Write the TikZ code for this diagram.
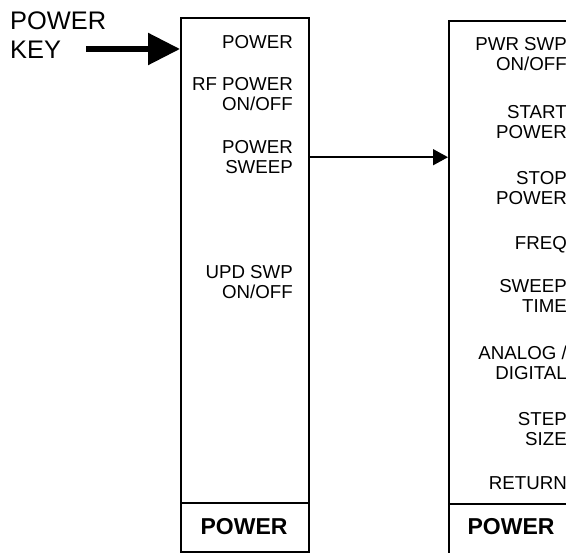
\documentclass[tikz,border=0pt]{standalone}
\usepackage{fontspec}
\setmainfont{Liberation Sans}
\usetikzlibrary{arrows.meta}
\begin{document}
\begin{tikzpicture}[x=1pt, y=-1pt]

      \tikzset{menu/.style={draw, line width=2pt, rectangle, inner sep=0pt, minimum width=128pt, anchor=north west},
               softkey/.style={inner sep=0pt, align=right, anchor=base east, font=\fontsize{18.7}{20.7}\selectfont},
               hardkey/.style={inner sep=0pt, font=\fontsize{23}{25}\selectfont\bfseries},
               divider/.style={line width=2pt},
               keyarrow/.style={line width=5.5pt, -{Triangle[length=32pt, width=31pt]}},
               menuarrow/.style={line width=1.5pt, -{Triangle[length=15pt, width=16pt]}}}
      \useasboundingbox (0,0) rectangle (566,553);
%% Menus
      	\node[menu, minimum height=534pt] (lmenu) at (180,17) {};
      	\node[menu, minimum height=600pt] (rmenu) at (448,20) {};
      	\draw[divider] (180,503) -- (308,503);
      	\draw[divider] (448,504) -- (576,504);
      	\node[hardkey] (lkey) at (244,527) {POWER};
      	\node[hardkey] (rkey) at (511,527) {POWER};
%% Softkeys (base = last line)
      	\node[inner sep=0pt, align=left, anchor=base west, font=\fontsize{25.4}{29}\selectfont] (pkey) at (10,59) {POWER\\KEY};
      	\coordinate (keytail) at (86,49);
      	\node[softkey] (power) at (293,49) {POWER};
      	\node[softkey] (rfpower) at (293,111) {RF POWER\\ON/OFF};
      	\node[softkey] (psweep) at (293,174) {POWER\\SWEEP};
      	\node[softkey] (updswp) at (293,299) {UPD SWP\\ON/OFF};
      	\node[softkey] (pwrswp) at (567,71) {PWR SWP\\ON/OFF};
      	\node[softkey] (startp) at (567,139) {START\\POWER};
      	\node[softkey] (stopp) at (567,205) {STOP\\POWER};
      	\node[softkey] (freq) at (567,250) {FREQ};
      	\node[softkey] (swptime) at (567,313) {SWEEP\\TIME};
      	\node[softkey] (analog) at (567,380) {ANALOG /\\DIGITAL};
      	\node[softkey] (stepsize) at (567,446) {STEP\\SIZE};
      	\node[softkey] (return) at (567,490) {RETURN};
%Arrows
		\draw[keyarrow] (keytail) -- (keytail -| lmenu.west);
		\draw[menuarrow] (lmenu.east |- psweep) -- (rmenu.west |- psweep);

\end{tikzpicture}
\end{document}
